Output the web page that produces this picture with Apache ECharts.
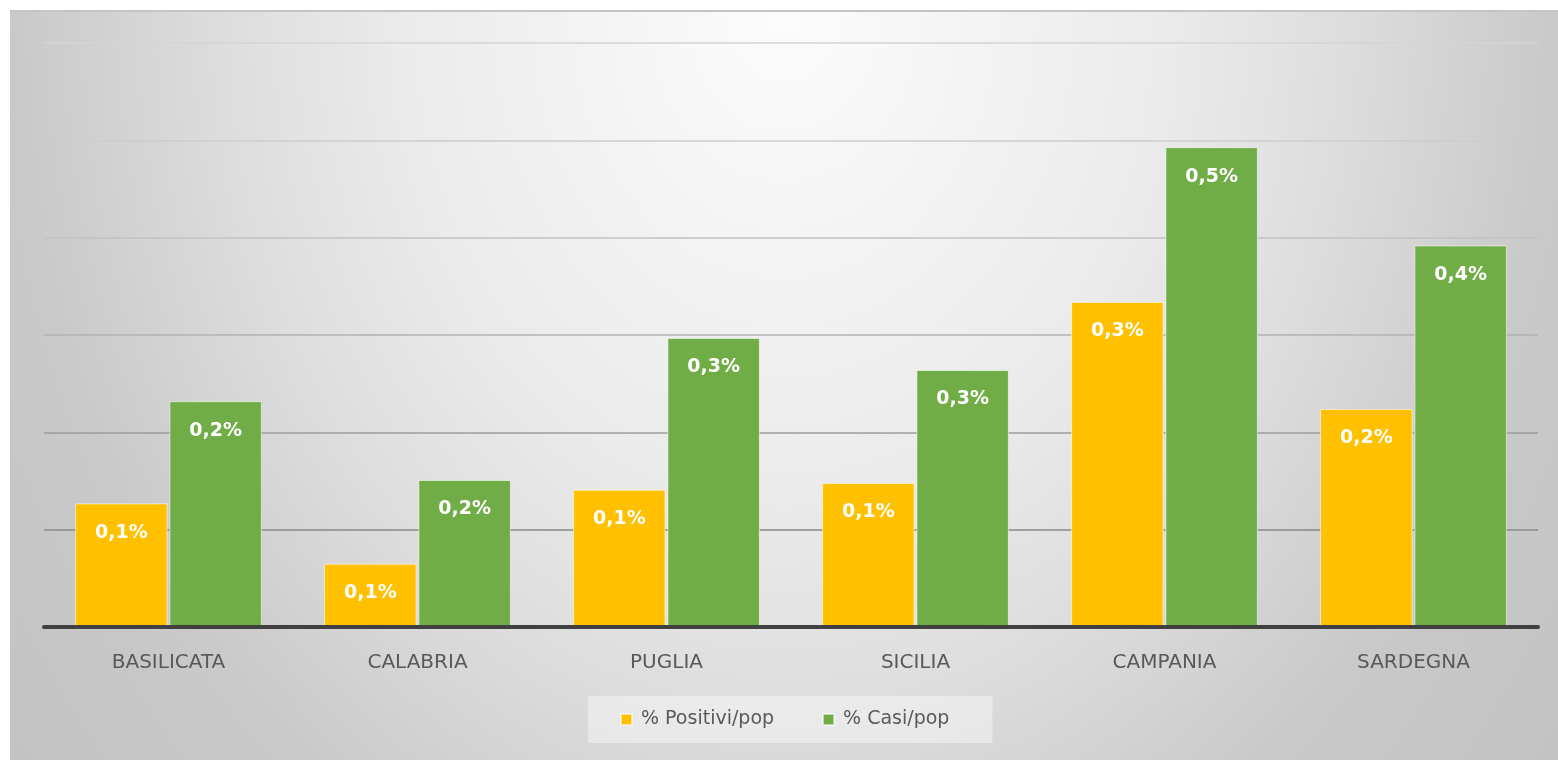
<!DOCTYPE html>
<html>
<head>
<meta charset="utf-8">
<title>Positivi / Casi su popolazione</title>
<script src="https://cdn.jsdelivr.net/npm/echarts@6/dist/echarts.min.js"></script>
<style>
  html, body { margin: 0; padding: 0; background: #fff; }
  #chart {
    position: absolute;
    left: 10px;
    top: 10px;
    width: 1548px;
    height: 748px;
    border-top: 2px solid #c4c4c4;
    background: radial-gradient(ellipse 1000px 1250px at 50% 0%,
      #fcfcfc 0%, #ebebeb 38%, #dedede 55%, #c9c9c9 77%, #c3c3c3 97%);
  }
</style>
</head>
<body>
<div id="chart"></div>
<script>
// regioni
const regioni = ["BASILICATA", "CALABRIA", "PUGLIA", "SICILIA", "CAMPANIA", "SARDEGNA"];
// valori in %
const positiviPop = [0.127, 0.065, 0.141, 0.148, 0.334, 0.224];
const casiPop = [0.232, 0.151, 0.297, 0.264, 0.493, 0.392];
const nomiSerie = ["% Positivi/pop", "% Casi/pop"];

const chart = echarts.init(document.getElementById("chart"));

function etichetta(p) {
  return (Math.round(p.value * 10) / 10).toFixed(1).replace(".", ",") + "%";
}

const labelStyle = {
  show: true,
  position: "insideTop",
  distance: 20,
  color: "#fff",
  fontWeight: "bold",
  fontSize: 19,
  fontFamily: "DejaVu Sans",
  formatter: etichetta,
};

const option = {
  animation: false,
  backgroundColor: "transparent",
  grid: { left: 34, right: 20, top: 31, bottom: 133 },
  legend: {
    data: nomiSerie,
    left: 578,
    top: 684,
    padding: [14, 43, 14, 32],
    backgroundColor: "rgba(255,255,255,0.4)",
    icon: "rect",
    itemWidth: 11,
    itemHeight: 11,
    itemGap: 48,
    textStyle: {
      color: "#595959",
      fontSize: 19,
      fontFamily: "DejaVu Sans",
      padding: [0, 0, 0, 4],
    },
  },
  xAxis: {
    type: "category",
    data: regioni,
    z: 5,
    axisLine: { lineStyle: { color: "#404040", width: 4 } },
    axisTick: { show: false },
    axisLabel: {
      color: "#595959",
      fontSize: 20,
      fontFamily: "DejaVu Sans",
      margin: 26,
    },
  },
  yAxis: {
    type: "value",
    min: 0,
    max: 0.6,
    interval: 0.1,
    axisLabel: { show: false },
    axisLine: { show: false },
    axisTick: { show: false },
    splitLine: {
      lineStyle: {
        width: 1.5,
        color: ["#404040", "#888888", "#9c9c9c", "#b2b2b2", "#c2c2c2", "#cdcdcd", "#d4d4d4"],
      },
    },
  },
  series: [
    {
      name: nomiSerie[0],
      type: "bar",
      data: positiviPop,
      barCategoryGap: "25%",
      barGap: "2%",
      itemStyle: { color: "#FFC000", borderColor: "rgba(255,255,255,0.55)", borderWidth: 1 },
      label: labelStyle,
    },
    {
      name: nomiSerie[1],
      type: "bar",
      data: casiPop,
      barCategoryGap: "25%",
      barGap: "2%",
      itemStyle: { color: "#70AD47", borderColor: "rgba(255,255,255,0.55)", borderWidth: 1 },
      label: labelStyle,
    },
  ],
};

chart.setOption(option);
</script>
</body>
</html>
